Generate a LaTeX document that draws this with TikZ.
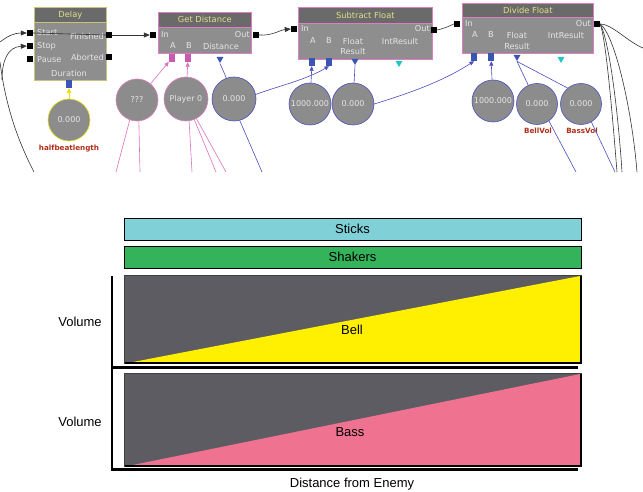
\documentclass[tikz,border=0pt]{standalone}
\usepackage{fontspec}
\setmainfont{Liberation Sans}
\newfontfamily\pixfont{DejaVu Sans}
\usetikzlibrary{arrows.meta,shapes.geometric}
\definecolor{boxgray}{HTML}{8E8E8E}
\definecolor{titlegray}{HTML}{6A6A6A}
\definecolor{khaki}{HTML}{C9C27A}
\definecolor{pinkb}{HTML}{E07CC4}
\definecolor{pinkw}{HTML}{D872C2}
\definecolor{bluew}{HTML}{4A4FC0}
\definecolor{bluep}{HTML}{3C55B5}
\definecolor{pinkp}{HTML}{C85AB0}
\definecolor{cyanp}{HTML}{22C4C4}
\definecolor{yelb}{HTML}{F0E010}
\definecolor{titletext}{HTML}{E2E08A}
\definecolor{labred}{HTML}{B0301C}
\definecolor{circgray}{HTML}{8C8C8C}
\definecolor{sticks}{HTML}{80D0D8}
\definecolor{shakers}{HTML}{34B35A}
\definecolor{panelgray}{HTML}{5D5C63}
\definecolor{bellyel}{HTML}{FFEF00}
\definecolor{basspink}{HTML}{EF7391}
\tikzset{
  pf/.style={font=\pixfont\fontsize{8.2}{9}\selectfont},
  body/.style={draw=#1, fill=boxgray, line width=0.7pt, inner sep=0pt, anchor=north west},
  ttl/.style={draw=#1, fill=titlegray, line width=0.7pt, inner sep=0pt, anchor=north west, text=titletext, font=\pixfont\fontsize{8.3}{9}\selectfont},
  plab/.style={text=white!90!black, pf, inner sep=0pt},
  bsq/.style={fill=black, inner sep=0pt, minimum width=6pt, minimum height=6pt},
  csq/.style={fill=#1, inner sep=0pt, minimum width=6pt, minimum height=8pt},
  tri/.style={regular polygon, regular polygon sides=3, shape border rotate=180, fill=#1, inner sep=0pt, minimum size=8pt},
  circ/.style={circle, draw=#1, fill=circgray, line width=0.6pt, minimum size=42pt, inner sep=0pt, text=white!90!black, font=\pixfont\fontsize{8}{9}\selectfont},
  vlab/.style={text=labred, font=\pixfont\bfseries\fontsize{7.2}{8}\selectfont, inner sep=0pt},
  kw/.style={draw=black!80, line width=0.6pt},
  pw/.style={draw=pinkw, line width=0.6pt},
  bw/.style={draw=bluew, line width=0.6pt},
  tipk/.style={-{Triangle[length=6pt,width=5pt]}},
  tips/.style={-{Triangle[length=4.5pt,width=4pt]}},
  bar/.style={draw=black, line width=0.8pt, inner sep=0pt, font=\fontsize{13}{15}\selectfont},
  panel/.style={fill=panelgray, inner sep=0pt},
  axisline/.style={line width=2.6pt, draw=black},
  clab/.style={font=\fontsize{13}{15}\selectfont, inner sep=0pt}
}
\begin{document}
\begin{tikzpicture}[x=1pt,y=-1pt]
\useasboundingbox[fill=white] (0,0) rectangle (643,492);

% ---------- Delay ----------
\node[body=khaki, minimum width=72pt, minimum height=58pt] (delay) at (34,22) {};
\node[ttl=khaki, minimum width=72pt, minimum height=15pt] (delayT) at (34,7) {Delay};
\node[plab, anchor=west] (tStart) at (37,33) {Start};
\node[plab, anchor=west] (tStop) at (37,46) {Stop};
\node[plab, anchor=west] (tPause) at (37,60) {Pause};
\node[plab, anchor=east] (tFin) at (104,36) {Finished};
\node[plab, anchor=east] (tAbort) at (104,57) {Aborted};
\node[plab] (tDur) at (69,73) {Duration};
\node[bsq] (dStart) at (30,33) {};
\node[bsq] (dStop) at (30,46) {};
\node[bsq] (dPause) at (30,59) {};
\node[bsq] (dFin) at (109,35) {};
\node[bsq] (dAbort) at (109,57) {};
\node[csq=bluep] (dDur) at (69,84) {};

% ---------- Get Distance ----------
\node[body=pinkb, minimum width=93pt, minimum height=26pt] (gd) at (158,27) {};
\node[ttl=pinkb, minimum width=93pt, minimum height=15pt] (gdT) at (158,12) {Get Distance};
\node[plab, anchor=west] (gtIn) at (161,35) {In};
\node[plab, anchor=east] (gtOut) at (250,35) {Out};
\node[plab] (gtA) at (173,46) {A};
\node[plab] (gtB) at (189,46) {B};
\node[plab] (gtD) at (221,46) {Distance};
\node[bsq] (gIn) at (153,35) {};
\node[bsq] (gOut) at (256,35) {};
\node[csq=pinkp] (gA) at (172,58) {};
\node[csq=pinkp] (gB) at (188,58) {};
\node[tri=bluep] (gDist) at (220,59) {};

% ---------- Subtract Float ----------
\node[body=pinkb, minimum width=134pt, minimum height=36pt] (sf) at (298,23) {};
\node[ttl=pinkb, minimum width=134pt, minimum height=16pt] (sfT) at (298,7) {Subtract Float};
\node[plab, anchor=west] (stIn) at (301,29) {In};
\node[plab, anchor=east] (stOut) at (430,29) {Out};
\node[plab] (stA) at (313,41) {A};
\node[plab] (stB) at (329,41) {B};
\node[plab] (stF) at (353,41) {Float};
\node[plab] (stR) at (353,51) {Result};
\node[plab] (stI) at (400,41) {IntResult};
\node[bsq] (sIn) at (294,29) {};
\node[bsq] (sOut) at (434,30) {};
\node[csq=bluep] (sA) at (312,62) {};
\node[csq=bluep] (sB) at (329,62) {};
\node[tri=bluep] (sRes) at (355,61) {};
\node[tri=cyanp] (sInt) at (399,63) {};

% ---------- Divide Float ----------
\node[body=pinkb, minimum width=131pt, minimum height=36pt] (df) at (462,17) {};
\node[ttl=pinkb, minimum width=131pt, minimum height=14pt] (dfT) at (462,3) {Divide Float};
\node[plab, anchor=west] (vtIn) at (465,24) {In};
\node[plab, anchor=east] (vtOut) at (591,24) {Out};
\node[plab] (vtA) at (475,35) {A};
\node[plab] (vtB) at (491,35) {B};
\node[plab] (vtF) at (517,35) {Float};
\node[plab] (vtR) at (517,46) {Result};
\node[plab] (vtI) at (566,35) {IntResult};
\node[bsq] (vIn) at (457,24) {};
\node[bsq] (vOut) at (597,24) {};
\node[csq=bluep] (vA) at (474,57) {};
\node[csq=bluep] (vB) at (491,57) {};
\node[tri=bluep] (vRes) at (517,57) {};
\node[tri=cyanp] (vInt) at (561,59) {};

% ---------- variable circles ----------
\node[circ=yelb] (cHalf) at (69,120) {0.000};
\node[vlab] (lHalf) at (69,149) {halfbeatlength};
\node[circ=pinkb] (cQ) at (137,100) {???};
\node[circ=pinkb, minimum size=44pt] (cP) at (186,99) {Player 0};
\node[circ=bluew, minimum size=44pt] (cD) at (234,99) {0.000};
\node[circ=bluew] (cS1) at (310,104) {1000.000};
\node[circ=bluew] (cS2) at (353,104) {0.000};
\node[circ=bluew] (cV1) at (493,101) {1000.000};
\node[circ=bluew, minimum size=41pt] (cV2) at (537,104) {0.000};
\node[circ=bluew, minimum size=41pt] (cV3) at (581,104) {0.000};
\node[vlab] (lBell) at (538,131) {BellVol};
\node[vlab] (lBass) at (582,131) {BassVol};

% ---------- free wire ends ----------
\coordinate (wl1) at (0,42);
\coordinate (wl2) at (2,80);
\coordinate (wl3) at (0,62);
\coordinate (wl3e) at (34,172);
\coordinate (wr1) at (643,48);
\coordinate (wr2) at (617,172);
\coordinate (wr3) at (622,172);
\coordinate (wr4) at (637,172);
\coordinate (wq1) at (116,172);
\coordinate (wq2) at (140,172);
\coordinate (wp1) at (192,172);
\coordinate (wp2) at (216,172);
\coordinate (wp3) at (226,172);
\coordinate (wd1) at (262,172);
\coordinate (wb1) at (576,172);
\coordinate (wb2) at (615,172);

% ---------- black wires ----------
\draw[kw, tipk] (wl1) .. controls (8,36) and (14,33) .. (dStart.west);
\draw[kw, tipk] (wl2) .. controls (2,60) and (8,47) .. (dStop.west);
\draw[kw] (wl3) .. controls (6,110) and (20,145) .. (wl3e);
\draw[kw] (dStart.east) -- (dFin.west);
\draw[kw, tipk] (dFin.east) -- (gIn.west);
\draw[kw, tipk] (gOut.east) .. controls (272,36) and (280,30) .. (sIn.west);
\draw[kw] (sOut.east) .. controls (445,28) .. (vIn.west);
\draw[kw] (vOut.east) .. controls (612,24) and (628,42) .. (wr1);
\draw[kw] (vOut.east) .. controls (606,40) and (612,110) .. (wr2);
\draw[kw] (vOut.east) .. controls (609,40) and (618,110) .. (wr3);
\draw[kw] (vOut.east) .. controls (615,35) and (632,110) .. (wr4);

% ---------- yellow ----------
\draw[draw=yelb, line width=0.6pt, -{Triangle[length=5pt,width=5pt]}] (cHalf) -- (dDur);

% ---------- pink wires ----------
\draw[pw, tips] (cQ) -- (gA);
\draw[pw, tips] (cP) -- (gB);
\draw[pw] (cQ.-110) -- (wq1);
\draw[pw] (cQ.-85) -- (wq2);
\draw[pw] (cP.-82) -- (wp1);
\draw[pw] (cP.-68) -- (wp2);
\draw[pw] (cP.-62) -- (wp3);

% ---------- blue wires ----------
\draw[bw] (cD.110) -- (gDist.south);
\draw[bw] (cD.-75) -- (wd1);
\draw[bw, tips] (cD.12) .. controls (285,84) and (305,80) .. (sB.south);
\draw[bw, tips] (cS1) -- (sA);
\draw[bw] (sRes.south) -- (cS2);
\draw[bw, tips] (cS2.east) .. controls (420,90) and (448,78) .. (vA.south);
\draw[bw, tips] (cV1) -- (vB);
\draw[bw] (vRes.south) -- (cV2.115);
\draw[bw] (vRes.south) -- (cV3.130);
\draw[bw] (cV2.-55) -- (wb1);
\draw[bw] (cV3.-60) -- (wb2);

% ---------- chart ----------
\node[bar, fill=sticks, minimum width=457pt, minimum height=22pt] (sticksbar) at (352.5,229) {Sticks};
\draw[line width=1.8pt] (sticksbar.north east) -- (sticksbar.south east) -- (sticksbar.south west);
\node[bar, fill=shakers, minimum width=457pt, minimum height=22pt] (shakersbar) at (352.5,257) {Shakers};
\draw[line width=1.8pt] (shakersbar.north east) -- (shakersbar.south east) -- (shakersbar.south west);

\node[panel, minimum width=456pt, minimum height=87pt] (bell) at (353,319.5) {};
\fill[bellyel] ([xshift=2pt]bell.south west) -- (bell.south east) -- (bell.north east) -- cycle;
\draw[line width=0.8pt, draw=black!75] (bell.north west) rectangle (bell.south east);
\draw[line width=1.6pt] (bell.north east) -- (bell.south east) -- (bell.south west);
\node[clab] (belltext) at (352,330) {Bell};

\node[panel, minimum width=456pt, minimum height=92pt] (bass) at (353,420) {};
\fill[basspink] ([xshift=2pt]bass.south west) -- (bass.south east) -- (bass.north east) -- cycle;
\draw[line width=0.8pt, draw=black!75] (bass.north west) rectangle (bass.south east);
\draw[line width=1.6pt] (bass.north east) -- (bass.south east) -- (bass.south west);
\node[clab] (basstext) at (350,432) {Bass};

\coordinate (axtop) at (112,276);
\coordinate (axorig) at (112,469.5);
\coordinate (axright) at (578,469.5);
\coordinate (midl) at (112,367.5);
\coordinate (midr) at (578,367.5);
\draw[axisline] (axtop) -- (axorig) -- (axright);
\draw[axisline] (midl) -- (midr);

\node[clab] (vol1) at (80,322) {Volume};
\node[clab] (vol2) at (80,422) {Volume};
\node[clab] (xlab) at (352,484) {Distance from Enemy};
\end{tikzpicture}
\end{document}
